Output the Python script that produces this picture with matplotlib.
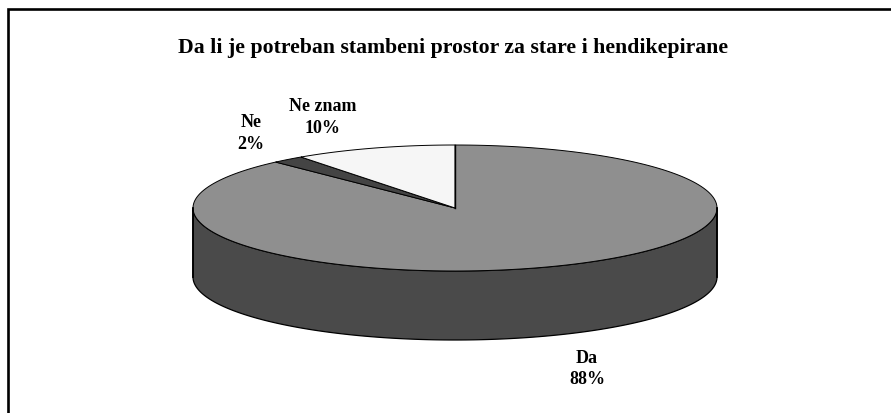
import numpy as np
import matplotlib
matplotlib.use("Agg")
import matplotlib.pyplot as plt
from matplotlib.patches import Polygon

plt.rcParams["font.family"] = ["Liberation Serif", "DejaVu Serif"]

# -------------------------------
# DATA
# -------------------------------
labels = ["Da", "Ne", "Ne znam"]
shares = [88, 2, 10]
top_colors = ["#8f8f8f", "#444444", "#f6f6f6"]
title = "Da li je potreban stambeni prostor za stare i hendikepirane"

# pie geometry in pixels
cx, cy = 455, 209
rx, ry = 262, 63
depth = 69


def rim(a0, a1, dy=0):
    # angles in degrees clockwise from 12 o'clock
    a = np.radians(np.linspace(a0, a1, 200))
    return np.column_stack([cx + rx * np.sin(a), cy - ry * np.cos(a) + dy])


fig = plt.figure(figsize=(8.91, 4.14), dpi=100)
ax = fig.add_axes([0, 0, 1, 1])
ax.set_xlim(0, 891)
ax.set_ylim(414, 0)
ax.axis("off")

# frame is cut off by the picture at right and bottom
ax.plot([7.5, 7.5, 891], [414, 9.5, 9.5], color="black", lw=1.9,
        solid_joinstyle="miter")

# side of the pie (front half)
front = rim(90, 270)
side = np.vstack([front, rim(270, 90, depth)])
ax.add_patch(Polygon(side, closed=True, fc="#4a4a4a", ec="black", lw=0.9))

# top slices
start = 0
for share, color in zip(shares, top_colors):
    end = start + share * 3.6
    pts = np.vstack([[cx, cy], rim(start, end)])
    ax.add_patch(Polygon(pts, closed=True, fc=color, ec="black", lw=0.7))
    start = end

# heavier lines at the sides and the first slice edge
ax.plot([cx - rx, cx - rx], [cy, cy + depth], color="black", lw=1.3)
ax.plot([cx + rx, cx + rx], [cy, cy + depth], color="black", lw=1.3)
ax.plot([cx, cx], [cy - ry, cy], color="black", lw=1.0)

# text
tkw = dict(ha="center", va="center", fontweight="bold", color="black")
ax.text(453.5, 47.5, title, fontsize=15.7, **tkw)
lkw = dict(fontsize=13, linespacing=1.33, **tkw)
ax.text(587, 369, f"{labels[0]}\n{shares[0]}%", **lkw)
ax.text(251, 133.5, f"{labels[1]}\n{shares[1]}%", **lkw)
ax.text(323, 117.5, f"{labels[2]}\n{shares[2]}%", **lkw)

fig.savefig("out.png", dpi=100)
